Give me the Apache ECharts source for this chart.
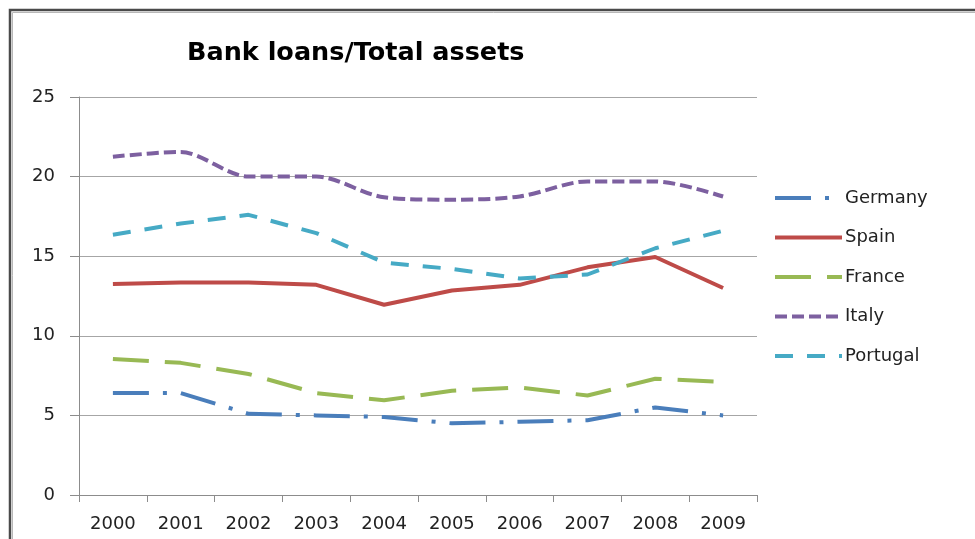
<!DOCTYPE html>
<html>
<head>
<meta charset="utf-8">
<script src="https://cdn.jsdelivr.net/npm/echarts@6/dist/echarts.min.js"></script>
<style>
  html, body { margin: 0; padding: 0; background: #fff; }
  #chart { width: 975px; height: 539px; }
</style>
</head>
<body>
<div id="chart"></div>
<script>
// Bank loans as a share of total assets, by country
const years = ['2000', '2001', '2002', '2003', '2004', '2005', '2006', '2007', '2008', '2009'];
const germany  = [6.4, 6.4, 5.1, 5.0, 4.9, 4.5, 4.6, 4.7, 5.5, 5.0];
const spain    = [13.25, 13.35, 13.35, 13.2, 11.95, 12.85, 13.2, 14.3, 14.95, 13.0];
const france   = [8.55, 8.3, 7.6, 6.4, 5.95, 6.55, 6.75, 6.25, 7.3, 7.1];
const italy    = [21.25, 21.55, 20.0, 20.0, 18.7, 18.55, 18.75, 19.7, 19.7, 18.75];
const portugal = [16.35, 17.05, 17.6, 16.45, 14.6, 14.2, 13.6, 13.85, 15.5, 16.6];
const yTicks = { min: 0, max: 25, step: 5 };

const FONT = '"DejaVu Sans", sans-serif';

function lineSeries(name, data, color, dash, opts) {
  return Object.assign({
    name: name,
    type: 'line',
    data: data,
    symbol: 'none',
    lineStyle: { color: color, width: 4, type: dash, cap: 'butt' },
    itemStyle: { color: color },
    emphasis: { disabled: true }
  }, opts || {});
}

const chart = echarts.init(document.getElementById('chart'), null, { renderer: 'canvas' });
chart.setOption({
  animation: false,
  backgroundColor: '#ffffff',
  title: {
    text: 'Bank loans/Total assets',
    left: 182,
    top: 35,
    textStyle: { fontFamily: FONT, fontWeight: 'bold', fontSize: 25.5, color: '#000' }
  },
  grid: { left: 79, right: 218, top: 97, bottom: 44, containLabel: false },
  legend: {
    orient: 'vertical',
    left: 773,
    top: 189,
    padding: 0,
    itemWidth: 67,
    itemHeight: 14,
    itemGap: 21.5,
    itemStyle: { opacity: 0 },
    lineStyle: { width: 4 },
    textStyle: { fontFamily: FONT, fontSize: 18, color: '#222', padding: [0, 0, 0, -2] },
    data: ['Germany', 'Spain', 'France', 'Italy', 'Portugal']
  },
  xAxis: {
    type: 'category',
    data: years,
    boundaryGap: true,
    axisLine: { lineStyle: { color: '#8c8c8c', width: 1 } },
    axisTick: { show: true, length: 7, lineStyle: { color: '#8c8c8c' } },
    axisLabel: { fontFamily: FONT, fontSize: 18, color: '#222', margin: 20 }
  },
  yAxis: {
    type: 'value',
    min: yTicks.min,
    max: yTicks.max,
    interval: yTicks.step,
    axisLine: { show: true, lineStyle: { color: '#8c8c8c', width: 1 } },
    axisTick: { show: true, length: 9, lineStyle: { color: '#8c8c8c' } },
    axisLabel: { fontFamily: FONT, fontSize: 18, color: '#222', margin: 24 },
    splitLine: { lineStyle: { color: '#a6a6a6', width: 1 } }
  },
  graphic: [
    {
      type: 'polyline',
      shape: { points: [[10, 539], [10, 10], [975, 10]] },
      style: { stroke: '#4a4a4a', lineWidth: 2.5, fill: null },
      silent: true
    },
    {
      type: 'polyline',
      shape: { points: [[12.5, 539], [12.5, 12.5], [975, 12.5]] },
      style: { stroke: '#b8b8b8', lineWidth: 1, fill: null },
      silent: true
    }
  ],
  series: [
    lineSeries('Germany', germany, '#4a7ebb', [36, 14, 4, 14]),
    lineSeries('Spain', spain, '#be4b48', 'solid'),
    lineSeries('France', france, '#98b954', [36, 16]),
    lineSeries('Italy', italy, '#7d60a0', [12, 5], { smooth: 0.3 }),
    lineSeries('Portugal', portugal, '#46aac5', [18, 14])
  ]
});
</script>
</body>
</html>
